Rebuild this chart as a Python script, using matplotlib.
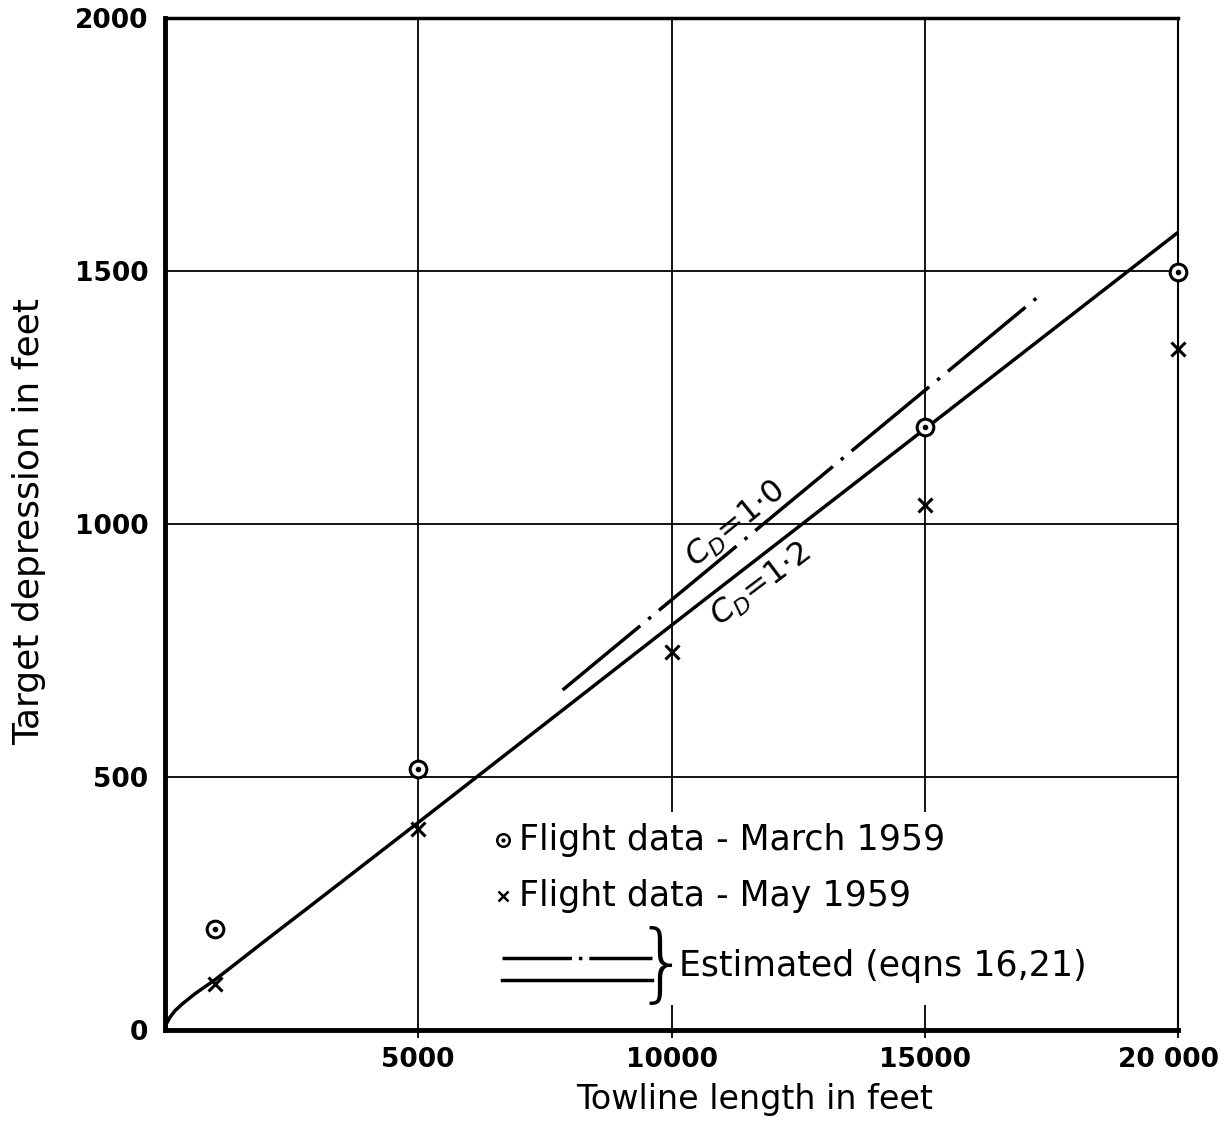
import matplotlib
matplotlib.use("Agg")
import matplotlib.pyplot as plt
import matplotlib.transforms as mtransforms
from matplotlib.patches import Rectangle

plt.rcParams['font.family'] = ['DejaVu Sans']

maerz_x = [1000, 5000, 15000, 20000]
maerz_y = [200, 515, 1192, 1498]
mai_x = [1000, 5000, 10000, 15000, 20000]
mai_y = [90, 398, 747, 1038, 1346]

# Schaetzung C_D = 1.2 (durchgezogen)
cd12_x = [0, 30, 100, 200, 350, 600, 1000, 2000, 3000, 5000, 10000, 15000, 20000]
cd12_y = [0, 12, 25, 38, 52, 72, 100, 178, 255, 410, 800, 1188, 1577]

# Schaetzung C_D = 1.0 (strichpunktiert)
cd10_x = [7850, 17230]
cd10_y = [672, 1449]

x_ticks = [5000, 10000, 15000, 20000]
x_labels = ["5000", "10000", "15000", "20 000"]
y_ticks = [0, 500, 1000, 1500, 2000]
y_labels = ["0", "500", "1000", "1500", "2000"]

fig = plt.figure(figsize=(12.3, 11.3), dpi=100)
ax = fig.add_axes([0.134, 0.0885, 0.824, 0.8955])
ax.set_xlim(0, 20000)
ax.set_ylim(0, 2000)

ax.set_axisbelow(True)
ax.grid(True, color="black", lw=1.3)
ax.set_xticks(x_ticks)
ax.set_xticklabels(x_labels, fontsize=19, fontweight="bold")
ax.set_yticks(y_ticks)
ax.set_yticklabels(y_labels, fontsize=19, fontweight="bold")
ax.tick_params(axis="x", direction="out", length=6, width=1.3, pad=6)
ax.tick_params(axis="y", length=0, pad=12)

# letztes Label etwas nach links, damit es nicht abgeschnitten wird
letztes = ax.get_xticklabels()[-1]
letztes.set_transform(letztes.get_transform() +
                      mtransforms.ScaledTranslation(-10 / 100, 0, fig.dpi_scale_trans))

ax.spines["left"].set_linewidth(3.5)
ax.spines["bottom"].set_linewidth(3.5)
ax.spines["top"].set_linewidth(2.5)
ax.spines["right"].set_linewidth(1.5)

ax.set_xlabel("Towline length in feet", fontsize=24)
ax.xaxis.set_label_coords(0.582, -0.052)
ax.set_ylabel("Target depression in feet", fontsize=26)
ax.yaxis.set_label_coords(-0.1175, 0.503)

# weisser Kasten hinter der Legende (Gitter unterbrochen)
ax.add_patch(Rectangle((0.319, 0.025), 0.604, 0.19, transform=ax.transAxes,
                       facecolor="white", edgecolor="none", zorder=1))

# Kurven
ax.plot(cd12_x, cd12_y, color="black", lw=2.5, zorder=3)
ax.plot(cd10_x, cd10_y, color="black", lw=2.5, linestyle=(0, (29, 3, 1, 3)), zorder=3)

# Flugdaten
ax.plot(maerz_x, maerz_y, linestyle=" ", marker="o", markersize=12, mfc="white",
        mec="black", mew=2.2, zorder=4, clip_on=False)
ax.plot(maerz_x, maerz_y, linestyle=" ", marker="o", markersize=3, color="black",
        zorder=5, clip_on=False)
ax.plot(mai_x, mai_y, linestyle=" ", marker="x", markersize=10, color="black", mew=2.2,
        zorder=4, clip_on=False)

# Beschriftung der Kurven
ax.text(11265, 1000, "$C_D$=1·0", fontsize=23, rotation=39,
        ha="center", va="center", zorder=5)
ax.text(11760, 880, "$C_D$=1·2", fontsize=23, rotation=37,
        ha="center", va="center", zorder=5)

# Legende von Hand
tr = ax.transAxes
ax.plot([0.3337], [0.1877], transform=tr, marker="o", markersize=9, mfc="white",
        mec="black", mew=1.8, linestyle=" ", zorder=5)
ax.plot([0.3337], [0.1877], transform=tr, marker="o", markersize=2, color="black",
        linestyle=" ", zorder=6)
ax.text(0.349, 0.1877, "Flight data - March 1959", transform=tr, fontsize=25,
        va="center", ha="left", zorder=5)
ax.plot([0.3337], [0.1324], transform=tr, marker="x", markersize=7, color="black",
        mew=1.8, linestyle=" ", zorder=5)
ax.text(0.349, 0.1324, "Flight data - May 1959", transform=tr, fontsize=25,
        va="center", ha="left", zorder=5)
ax.plot([0.3327, 0.4808], [0.0711, 0.0711], transform=tr, color="black", lw=2.5,
        linestyle=(0, (20, 2, 1, 2)), zorder=5)
ax.plot([0.3327, 0.4808], [0.0494, 0.0494], transform=tr, color="black", lw=2.5, zorder=5)
ax.text(0.4906, 0.062, "}", transform=tr, fontsize=62, fontweight="light",
        va="center", ha="center", zorder=5)
ax.text(0.507, 0.0632, "Estimated (eqns 16,21)", transform=tr, fontsize=25,
        va="center", ha="left", zorder=5)

fig.savefig("out.png", dpi=100)
